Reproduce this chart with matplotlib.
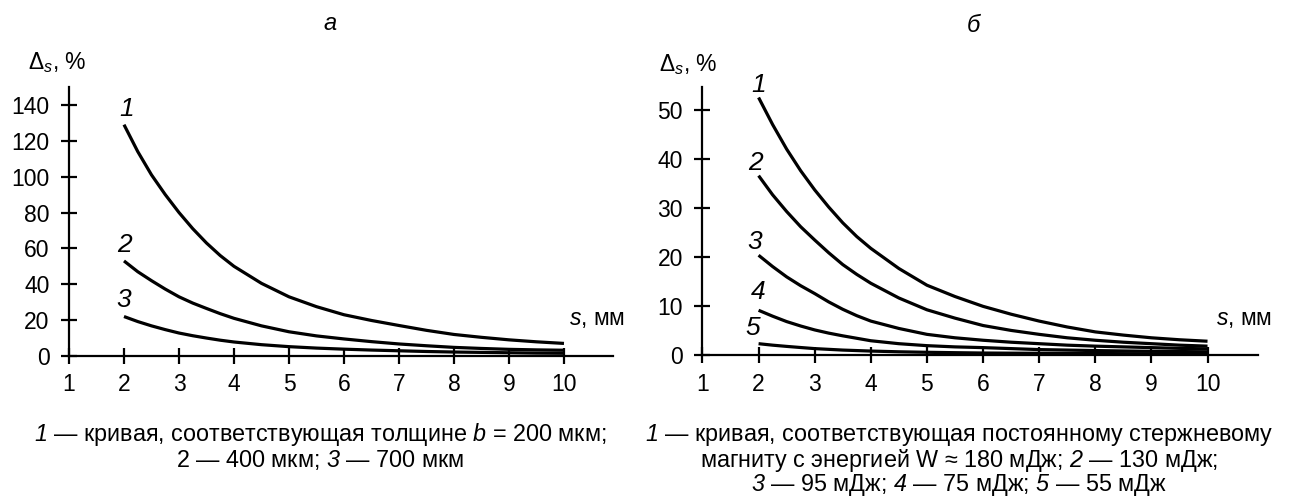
import numpy as np
import matplotlib
matplotlib.use('Agg')
import matplotlib.pyplot as plt

plt.rcParams['font.family'] = ['Liberation Sans', 'DejaVu Sans']
plt.rcParams['mathtext.fontset'] = 'custom'
plt.rcParams['mathtext.rm'] = 'Liberation Sans'
plt.rcParams['mathtext.it'] = 'Liberation Sans:italic'
# italic digits: mathtext keeps digits upright in \mathit, so use sf slot
plt.rcParams['mathtext.sf'] = 'Liberation Sans:italic'

# s, mm
s_vals = [2, 2.25, 2.5, 2.75, 3, 3.25, 3.5, 3.75, 4, 4.5, 5, 5.5, 6, 6.5, 7, 7.5, 8, 8.5, 9, 9.5, 10]

# panel a: thickness 200 / 400 / 700 um
a_curve1 = [129, 114, 101, 90, 80, 71, 63, 56, 50, 40.5, 33, 27.5, 23, 19.8, 17, 14.3, 12, 10.4, 9, 7.9, 7]
a_curve2 = [53, 47, 42, 37.3, 33, 29.5, 26.5, 23.6, 21, 16.8, 13.5, 11.2, 9.5, 8, 6.7, 5.7, 4.8, 4.2, 3.7, 3.4, 3.2]
a_curve3 = [22, 19.2, 16.8, 14.7, 12.8, 11.3, 10, 8.8, 7.8, 6.3, 5.2, 4.4, 3.8, 3.3, 2.9, 2.5, 2.2, 2.0, 1.8, 1.6, 1.5]

# panel b: magnet energy 180 / 130 / 95 / 75 / 55 mJ
b_curve1 = [52.5, 47, 42, 37.6, 33.7, 30.2, 27, 24.2, 21.8, 17.7, 14.3, 12, 10, 8.4, 7, 5.8, 4.8, 4.15, 3.6, 3.2, 2.9]
b_curve2 = [36.6, 32.7, 29.3, 26.2, 23.5, 20.9, 18.5, 16.5, 14.7, 11.7, 9.3, 7.6, 6.1, 5.1, 4.3, 3.6, 3.1, 2.7, 2.4, 2.1, 1.9]
b_curve3 = [20.4, 18.1, 16, 14.2, 12.6, 10.9, 9.4, 8.1, 7.0, 5.5, 4.3, 3.6, 3.1, 2.7, 2.4, 2.1, 1.9, 1.75, 1.6, 1.45, 1.35]
b_curve4 = [9.2, 8.0, 6.9, 6.0, 5.2, 4.55, 4.0, 3.5, 3.0, 2.4, 2.0, 1.75, 1.6, 1.4, 1.2, 1.1, 1.0, 0.92, 0.85, 0.8, 0.75]
b_curve5 = [2.4, 2.1, 1.85, 1.62, 1.4, 1.25, 1.1, 1.0, 0.9, 0.75, 0.65, 0.57, 0.5, 0.47, 0.45, 0.42, 0.4, 0.37, 0.35, 0.32, 0.3]

x_ticks = [1, 2, 3, 4, 5, 6, 7, 8, 9, 10]
a_yticks = [0, 20, 40, 60, 80, 100, 120, 140]
b_yticks = [0, 10, 20, 30, 40, 50]

a_labels = ['1', '2', '3']
a_label_pos = [(2.04, 138), (2.0, 62), (2.0, 31)]
b_labels = ['1', '2', '3', '4', '5']
b_label_pos = [(2.0, 55), (1.95, 39.2), (1.93, 23.1), (2.0, 13), (1.9, 5.6)]

fig = plt.figure(figsize=(12.92, 4.96), dpi=100)
ax1 = fig.add_axes([0.0534, 0.2823, 0.421, 0.5423])
ax2 = fig.add_axes([0.5437, 0.2833, 0.430, 0.5419])


def style_axes(ax, xmax, ymax, yticks):
    for side in ['top', 'right']:
        ax.spines[side].set_visible(False)
    for side in ['left', 'bottom']:
        ax.spines[side].set_linewidth(1.6)
    ax.set_xlim(1, xmax)
    ax.set_ylim(0, ymax)
    ax.set_xticks(x_ticks)
    ax.set_yticks(yticks)
    ax.tick_params(direction='inout', length=11, width=1.6, labelsize=16.5)
    ax.tick_params(axis='y', pad=8.5)
    ax.tick_params(axis='x', pad=7)
    ax.set_facecolor('none')


style_axes(ax1, 10.89, 150, a_yticks)
style_axes(ax2, 10.9, 54.7, b_yticks)

for ys in [a_curve1, a_curve2, a_curve3]:
    ax1.plot(s_vals, ys, color='black', lw=2.3, solid_capstyle='butt', clip_on=False)
for ys in [b_curve1, b_curve2, b_curve3, b_curve4, b_curve5]:
    ax2.plot(s_vals, ys, color='black', lw=2.3, solid_capstyle='butt', clip_on=False)

for lab, (x, y) in zip(a_labels, a_label_pos):
    ax1.text(x, y, lab, style='italic', fontsize=19, ha='center', va='center')
for lab, (x, y) in zip(b_labels, b_label_pos):
    ax2.text(x, y, lab, style='italic', fontsize=19, ha='center', va='center')

# axis captions
fig.text(57 / 1292, 1 - 63 / 496, 'Δ$_{\\mathit{s}}$, %', fontsize=16.5, ha='center', va='center')
fig.text(688 / 1292, 1 - 65 / 496, 'Δ$_{\\mathit{s}}$, %', fontsize=16.5, ha='center', va='center')
fig.text(597 / 1292, 1 - 318 / 496, '$\\mathit{s}$, мм', fontsize=16.5, ha='center', va='center')
fig.text(1244 / 1292, 1 - 318 / 496, '$\\mathit{s}$, мм', fontsize=16.5, ha='center', va='center')

# panel titles
fig.text(330 / 1292, 1 - 24 / 496, 'а', style='italic', fontsize=17, ha='center', va='center')
fig.text(973 / 1292, 1 - 26 / 496, 'б', style='italic', fontsize=17, ha='center', va='center')

# figure notes
cap_a = ['$\\mathsf{1}$ — кривая, соответствующая толщине $\\mathsf{b}$ = 200 мкм;',
         '2 — 400 мкм; $\\mathsf{3}$ — 700 мкм']
cap_b = ['$\\mathsf{1}$ — кривая, соответствующая постоянному стержневому',
         'магниту с энергией W ≈ 180 мДж; $\\mathsf{2}$ — 130 мДж;',
         '$\\mathsf{3}$ — 95 мДж; $\\mathsf{4}$ — 75 мДж; $\\mathsf{5}$ — 55 мДж']
for i, line in enumerate(cap_a):
    fig.text(320 / 1292, 1 - (435 + 25 * i) / 496, line, fontsize=16.8, ha='center', va='center')
for i, line in enumerate(cap_b):
    fig.text(959 / 1292, 1 - (435 + 25 * i) / 496, line, fontsize=16.8, ha='center', va='center')

fig.savefig('out.png', dpi=100, facecolor='white')
